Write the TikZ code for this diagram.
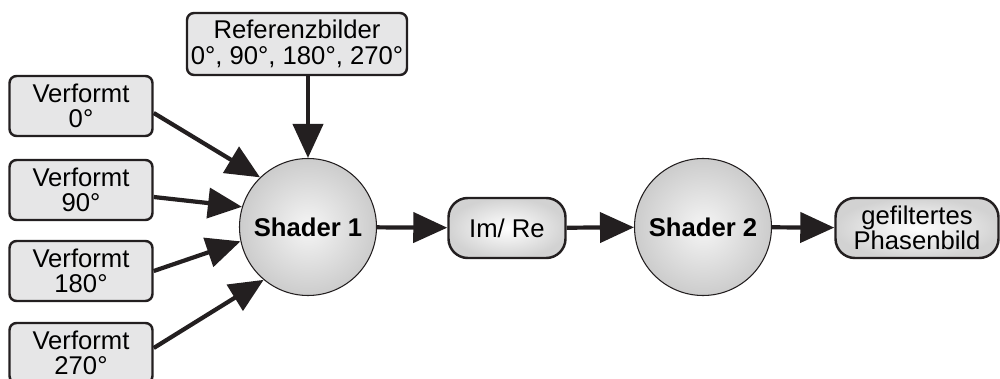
\documentclass[tikz,border=0pt]{standalone}
\usepackage{fontspec}
\setmainfont{Liberation Sans}
\usetikzlibrary{arrows.meta,shadings}
\definecolor{boxgray}{HTML}{E6E6E7}
\definecolor{edgegray}{HTML}{231F20}

\tikzset{
  inbox/.style={draw=edgegray,line width=1.4pt,fill=boxgray,rounded corners=4pt,
    minimum width=2.86cm,minimum height=1.2cm,inner sep=0pt,align=center,
    font=\fontsize{14.6}{14.5}\selectfont},
  outbox/.style={inbox,rounded corners=11pt,inner color=white,outer color=gray!35},
  shader/.style={circle,draw=edgegray,line width=0.6pt,minimum size=2.74cm,
    inner color=gray!8,outer color=gray!40,font=\fontsize{14.6}{14}\selectfont\bfseries},
  flow/.style={-{Triangle[length=0.68cm,width=0.6cm]},line width=2.4pt,edgegray}
}

\begin{document}
\begin{tikzpicture}
  \useasboundingbox (0,0) rectangle (20,7.56);
  % Inputs
  \node[inbox] (v0) at (1.62,5.44) {Verformt\\0°};
  \node[inbox] (v90) at (1.62,3.76) {Verformt\\90°};
  \node[inbox] (v180) at (1.62,2.14) {Verformt\\180°};
  \node[inbox] (v270) at (1.62,0.50) {Verformt\\270°};
  \node[inbox,minimum width=4.4cm,minimum height=1.24cm] (ref) at (5.94,6.68) {Referenzbilder\\0°, 90°, 180°, 270°};
  % Shaders
  \node[shader] (shader1) at (6.16,3.02) {Shader 1};
  \node[shader] (shader2) at (14.06,3.02) {Shader 2};
  % Intermediate and result
  \node[outbox,minimum width=2.34cm] (imre) at (10.14,3.0) {Im/ Re};
  \node[outbox,minimum width=3.26cm] (result) at (18.34,3.0) {gefiltertes\\Phasenbild};
  % Arrows
  \draw[flow] ([yshift=-0.14cm]v0.east) -- (shader1.134);
  \draw[flow] ([yshift=-0.14cm]v90.east) -- (shader1.163);
  \draw[flow] (v180.east) -- (shader1.192);
  \draw[flow] ([yshift=0.1cm]v270.east) -- (shader1.230);
  \draw[flow] (ref.south -| shader1.north) -- (shader1.north);
  \draw[flow] (shader1) -- (imre);
  \draw[flow] (imre) -- (shader2);
  \draw[flow] (shader2) -- (result);
\end{tikzpicture}
\end{document}
